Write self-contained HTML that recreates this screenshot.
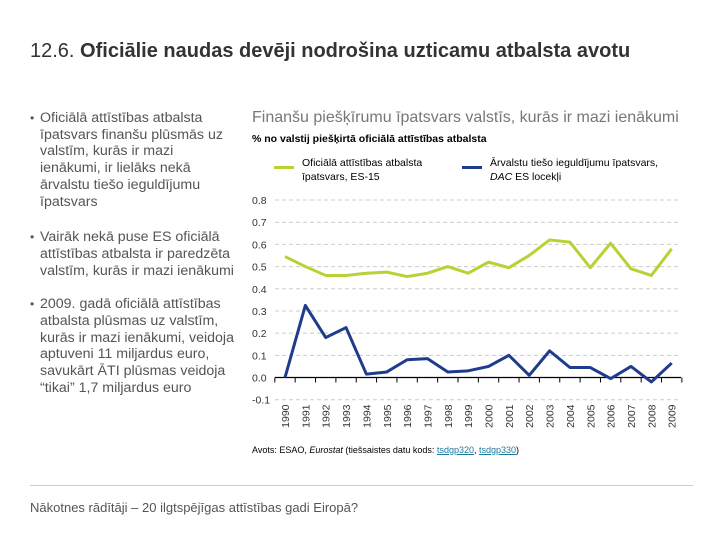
<!DOCTYPE html>
<html><head><meta charset="utf-8"><style>
body{margin:0;width:720px;height:540px;background:#fff;font-family:"Liberation Sans",sans-serif;position:relative;overflow:hidden}
.a{position:absolute}
.b{position:relative;padding-left:10px}
.b span{position:absolute;left:0;top:0;font-size:12px}
</style></head><body>
<div class="a" style="left:30px;top:40px;font-size:20px;color:#333">12.6. <b>Oficiālie naudas devēji nodrošina uzticamu atbalsta avotu</b></div>
<div class="a" style="left:30px;top:110px;width:207px;font-size:14.2px;color:#555;line-height:16.7px">
<div class="b" style="margin-bottom:19px"><span>•</span>Oficiālā attīstības atbalsta īpatsvars finanšu plūsmās uz valstīm, kurās ir mazi ienākumi, ir lielāks nekā ārvalstu tiešo ieguldījumu īpatsvars</div>
<div class="b" style="margin-bottom:17px"><span>•</span>Vairāk nekā puse ES oficiālā attīstības atbalsta ir paredzēta valstīm, kurās ir mazi ienākumi</div>
<div class="b"><span>•</span>2009. gadā oficiālā attīstības atbalsta plūsmas uz valstīm, kurās ir mazi ienākumi, veidoja aptuveni 11 miljardus euro, savukārt ĀTI plūsmas veidoja “tikai” 1,7 miljardus euro</div>
</div>
<div class="a" style="left:252px;top:109px;font-size:16px;color:#777">Finanšu piešķīrumu īpatsvars valstīs, kurās ir mazi ienākumi</div>
<div class="a" style="left:252px;top:133px;font-size:10.5px;font-weight:bold;color:#000">% no valstij piešķirtā oficiālā attīstības atbalsta</div>
<div class="a" style="left:274px;top:156px;font-size:10.5px;color:#000;line-height:14px"><span style="position:absolute;left:0;top:10px;width:20px;height:3px;background:#b5d334"></span><div style="margin-left:28px">Oficiālā attīstības atbalsta<br>īpatsvars, ES-15</div></div>
<div class="a" style="left:462px;top:156px;font-size:10.5px;color:#000;line-height:14px"><span style="position:absolute;left:0;top:10px;width:20px;height:3px;background:#1f3b8c"></span><div style="margin-left:28px">Ārvalstu tiešo ieguldījumu īpatsvars,<br><i>DAC</i> ES locekļi</div></div>
<svg class="a" style="left:0;top:0" width="720" height="540" id="chart"></svg>
<div class="a" style="left:252px;top:445px;font-size:9px;color:#000">Avots: ESAO, <i>Eurostat</i> (tiešsaistes datu kods: <span style="color:#1a7aa0;text-decoration:underline">tsdgp320</span>, <span style="color:#1a7aa0;text-decoration:underline">tsdgp330</span>)</div>
<div class="a" style="left:30px;top:485px;width:663px;height:1px;background:#ccc"></div>
<div class="a" style="left:30px;top:500px;font-size:13px;color:#555">Nākotnes rādītāji – 20 ilgtspējīgas attīstības gadi Eiropā?</div>
<script>
const years=["1990","1991","1992","1993","1994","1995","1996","1997","1998","1999","2000","2001","2002","2003","2004","2005","2006","2007","2008","2009"];
const odaShare=[0.545,0.50,0.46,0.46,0.47,0.475,0.455,0.47,0.50,0.47,0.52,0.495,0.55,0.62,0.61,0.495,0.605,0.49,0.46,0.58];
const fdiShare=[0.0,0.325,0.18,0.225,0.015,0.025,0.08,0.085,0.025,0.03,0.05,0.10,0.01,0.12,0.045,0.045,-0.005,0.05,-0.02,0.065];
const yTicks=[0.8,0.7,0.6,0.5,0.4,0.3,0.2,0.1,0.0,-0.1];
const yTickLabels=["0.8","0.7","0.6","0.5","0.4","0.3","0.2","0.1","0.0","-0.1"];
const svg=document.getElementById('chart');const NS='http://www.w3.org/2000/svg';
const xS=i=>285+i*(671.7-285)/(years.length-1);
const yS=v=>377.5-v*(377.5-200)/0.8;
function mk(t,a){const e=document.createElementNS(NS,t);for(const k in a)e.setAttribute(k,a[k]);svg.appendChild(e);return e;}
yTicks.forEach((v,i)=>{
 if(v!==0){const g=mk('line',{x1:275,x2:680,y1:yS(v),y2:yS(v),stroke:'#ccc','stroke-dasharray':'4,3'});
 
 }
 const t=mk('text',{x:252,y:yS(v)+4,'font-size':'10.5','fill':'#333','font-family':'Liberation Sans, sans-serif'});t.textContent=yTickLabels[i];
 
 
});
const ax=mk('line',{x1:275,x2:681,y1:yS(0),y2:yS(0),stroke:'#000','stroke-width':1.2});


const step=(671.7-285)/(years.length-1);
years.forEach((y,i)=>{
 const tk=mk('line',{x1:xS(i)-step/2,x2:xS(i)-step/2,y1:yS(0),y2:yS(0)+5,stroke:'#000'});
 
 
 const t=mk('text',{x:0,y:0,'font-size':'10.5','fill':'#333','font-family':'Liberation Sans, sans-serif','text-anchor':'end',transform:`translate(${xS(i)+4},${yS(0)+27}) rotate(-90)`});t.textContent=y;
 
 
});
mk('line',{x1:xS(years.length-1)+step/2,x2:xS(years.length-1)+step/2,y1:yS(0),y2:yS(0)+5,stroke:'#000'});
function line(d,c,n){const p=mk('polyline',{points:d.map((v,i)=>xS(i)+','+yS(v)).join(' '),fill:'none',stroke:c,'stroke-width':3,'stroke-linejoin':'round'});
 
 }
line(odaShare,'#b5d334','series-oda');
line(fdiShare,'#1f3b8c','series-fdi');
</script>
</body></html>
